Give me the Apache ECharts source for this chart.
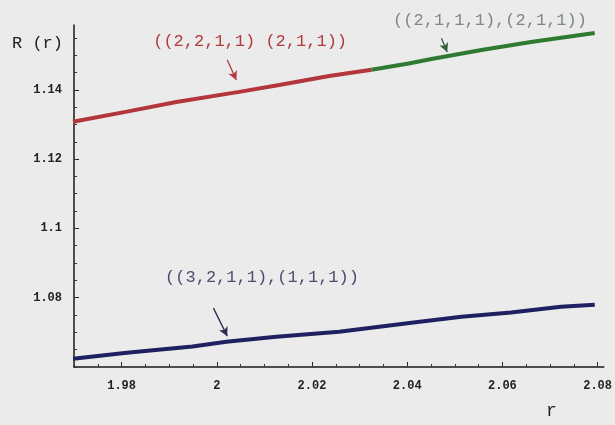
<!DOCTYPE html>
<html>
<head>
<meta charset="utf-8">
<script src="https://cdn.jsdelivr.net/npm/echarts@6/dist/echarts.min.js"></script>
<style>
  html, body { margin: 0; padding: 0; background: #ebebeb; }
  #chart { width: 615px; height: 425px; }
</style>
</head>
<body>
<div id="chart"></div>
<script>
// r, R(r) pairs
const redData = [
  [1.9698, 1.1308], [1.9811, 1.1337], [1.9915, 1.1365], [2.0047, 1.1394],
  [2.0131, 1.1414], [2.0236, 1.1440], [2.0325, 1.1458]
];
const greenData = [
  [2.0325, 1.1458], [2.0403, 1.1476], [2.0451, 1.1489], [2.0556, 1.1515],
  [2.0660, 1.1538], [2.0794, 1.1564]
];
const blueData = [
  [1.9698, 1.0624], [1.9811, 1.0641], [1.9949, 1.0659], [2.0020, 1.0673],
  [2.0125, 1.0687], [2.0257, 1.0702], [2.0409, 1.0728], [2.0514, 1.0745],
  [2.0618, 1.0757], [2.0723, 1.0774], [2.0794, 1.0780]
];

const xTicks = [1.98, 2, 2.02, 2.04, 2.06, 2.08];
const yTicks = [1.08, 1.1, 1.12, 1.14];

// labels: text, colour, [r, R] of text centre
const labels = [
  ['((2,2,1,1) (2,1,1))', '#b23a3f', [2.0070, 1.1538]],
  ['((2,1,1,1),(2,1,1))', '#7d8a7d', [2.0574, 1.1600]],
  ['((3,2,1,1),(1,1,1))', '#4b4d6e', [2.0095, 1.0857]]
];
// arrows: from, to, colour
const arrows = [
  [[2.0022, 1.1486], [2.0041, 1.1428], '#b23a3f'],
  [[2.0472, 1.1549], [2.0484, 1.1509], '#2f5f3a'],
  [[1.9993, 1.0770], [2.0022, 1.0689], '#2a2c50']
];

// minor ticks every 0.005
function minorTicks(lo, hi) {
  const out = [];
  for (let i = Math.ceil(lo / 0.005); i * 0.005 <= hi + 1e-9; i++) out.push(+(i * 0.005).toFixed(3));
  return out;
}

const chart = echarts.init(document.getElementById('chart'));
const font = '"Liberation Mono", "DejaVu Sans Mono", monospace';

const xCommon = { type: 'value', min: 1.97, max: 2.0813 };
const yCommon = { type: 'value', min: 1.06, max: 1.1587 };

function arrowLine(a) {
  return [{ coord: a[0], lineStyle: { color: a[2], width: 1.3, type: 'solid' } }, { coord: a[1] }];
}

chart.setOption({
  backgroundColor: '#ebebeb',
  animation: false,
  grid: { left: 74, right: 9, top: 25, bottom: 58 },
  xAxis: [
    Object.assign({}, xCommon, {
      axisLine: { lineStyle: { color: '#1a1a1a', width: 1.5 } },
      axisTick: { inside: true, length: 5, customValues: xTicks, lineStyle: { color: '#1a1a1a' } },
      axisLabel: {
        customValues: xTicks, margin: 13, color: '#222',
        fontFamily: font, fontSize: 12, fontWeight: 'bold'
      },
      splitLine: { show: false }
    }),
    Object.assign({}, xCommon, {
      position: 'bottom',
      axisLine: { show: false },
      axisTick: { inside: true, length: 3, customValues: minorTicks(1.97, 2.08), lineStyle: { color: '#333' } },
      axisLabel: { show: false },
      splitLine: { show: false }
    })
  ],
  yAxis: [
    Object.assign({}, yCommon, {
      axisLine: { lineStyle: { color: '#1a1a1a', width: 1.5 } },
      axisTick: { inside: true, length: 5, customValues: yTicks, lineStyle: { color: '#1a1a1a' } },
      axisLabel: {
        customValues: yTicks, margin: 12, color: '#222',
        fontFamily: font, fontSize: 12, fontWeight: 'bold'
      },
      splitLine: { show: false }
    }),
    Object.assign({}, yCommon, {
      position: 'left',
      axisLine: { show: false },
      axisTick: { inside: true, length: 3, customValues: minorTicks(1.06, 1.155), lineStyle: { color: '#333' } },
      axisLabel: { show: false },
      splitLine: { show: false }
    })
  ],
  series: [
    {
      type: 'line', data: redData, showSymbol: false,
      lineStyle: { color: '#b3363b', width: 4 }
    },
    {
      type: 'line', data: greenData, showSymbol: false,
      lineStyle: { color: '#2e7a30', width: 4 }
    },
    {
      type: 'line', data: blueData, showSymbol: false,
      lineStyle: { color: '#1e2062', width: 4 },
      markLine: {
        silent: true, animation: false,
        symbol: ['none', 'arrow'], symbolSize: [7, 9],
        label: { show: false },
        lineStyle: { type: 'solid' },
        data: arrows.map(arrowLine)
      }
    }
  ]
});

// text labels placed through the axes' scales
const graphics = labels.map(function (l) {
  const p = chart.convertToPixel({ gridIndex: 0 }, l[2]);
  return {
    type: 'text', x: p[0], y: p[1],
    style: {
      text: l[0], fill: l[1], font: '17px ' + font,
      textAlign: 'center', textVerticalAlign: 'middle'
    }
  };
});
graphics.push({
  type: 'text', x: 12, y: 43,
  style: { text: 'R (r)', fill: '#222', font: '17px ' + font, textVerticalAlign: 'middle' }
});
graphics.push({
  type: 'text', x: 546, y: 411,
  style: { text: 'r', fill: '#222', font: '18px ' + font, textVerticalAlign: 'middle' }
});
chart.setOption({ graphic: graphics });
</script>
</body>
</html>
